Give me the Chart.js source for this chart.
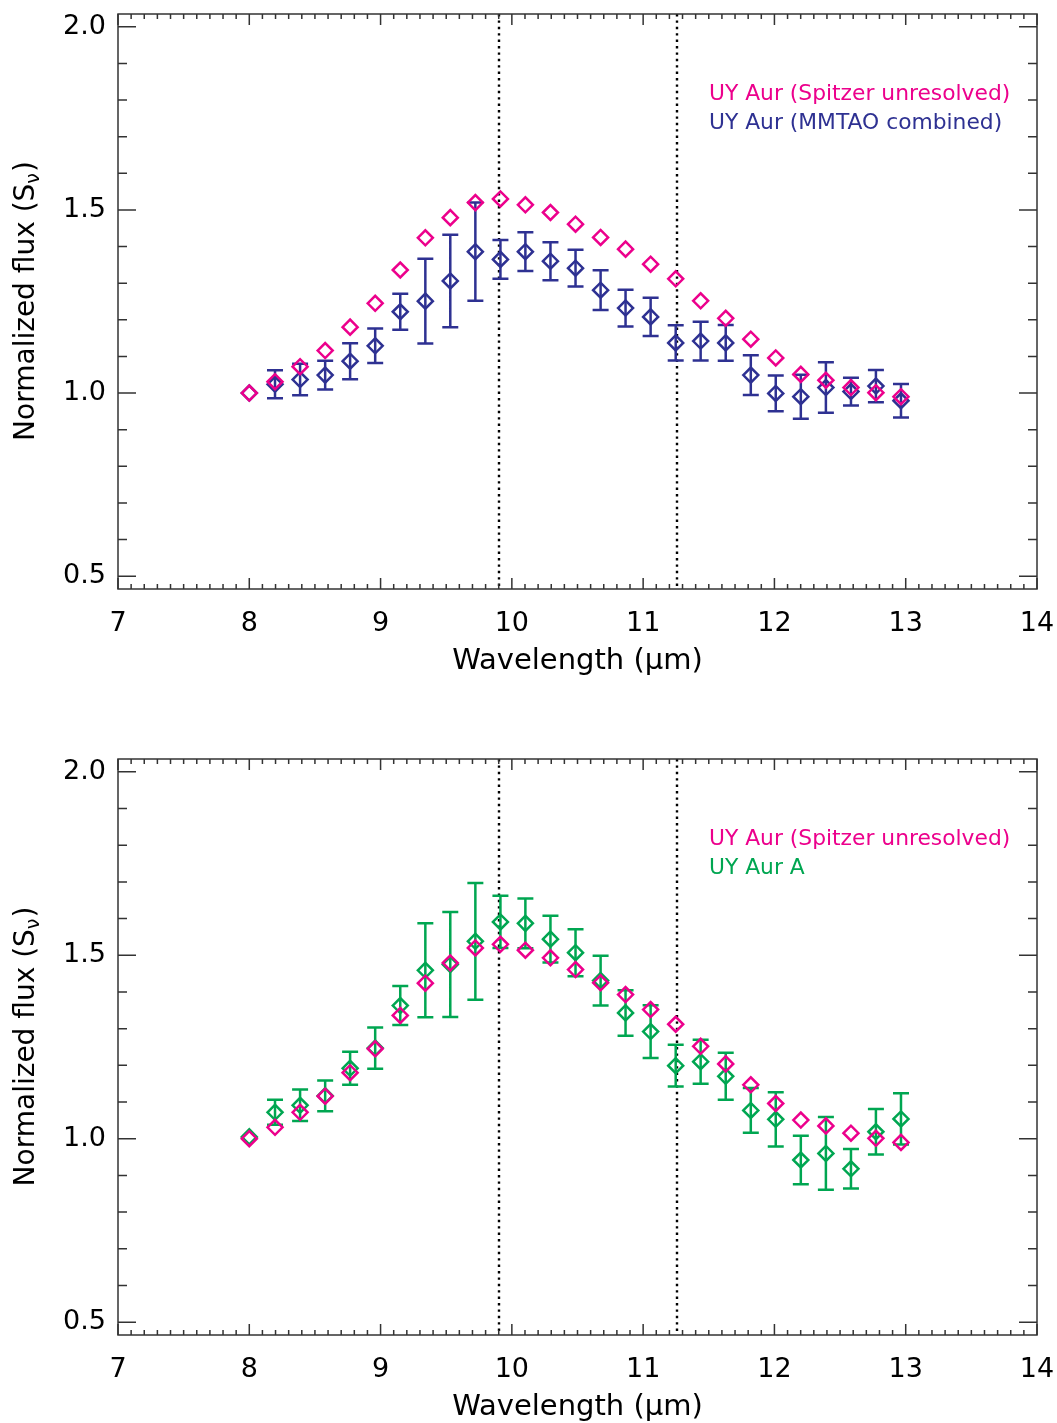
<!DOCTYPE html>
<html>
<head>
<meta charset="utf-8">
<script src="https://cdn.jsdelivr.net/npm/chart.js@4.4.1/dist/chart.umd.min.js"></script>
<style>
  body { margin: 0; background: #fff; }
  canvas { position: absolute; left: 0; }
</style>
</head>
<body>
<canvas id="topChart" width="1057" height="700" style="top:0"></canvas>
<canvas id="bottomChart" width="1057" height="723" style="top:700px"></canvas>
<script>
// wavelengths (micron) of the spectral points
const wavelength = [8.00, 8.196, 8.387, 8.578, 8.768, 8.959, 9.150, 9.341, 9.531, 9.722,
  9.913, 10.103, 10.294, 10.485, 10.676, 10.866, 11.057, 11.248, 11.438, 11.629,
  11.820, 12.010, 12.201, 12.392, 12.583, 12.773, 12.964];

// UY Aur (Spitzer unresolved)
const spitzerFlux = [1.000, 1.031, 1.072, 1.116, 1.180, 1.245, 1.336, 1.424, 1.479, 1.520,
  1.530, 1.514, 1.493, 1.461, 1.425, 1.393, 1.352, 1.312, 1.252, 1.204,
  1.147, 1.096, 1.051, 1.035, 1.015, 1.001, 0.990];

// UY Aur (MMTAO combined)
const mmtaoFlux = [1.000, 1.024, 1.037, 1.049, 1.087, 1.129, 1.222, 1.251, 1.306, 1.386,
  1.365, 1.386, 1.360, 1.341, 1.281, 1.232, 1.208, 1.137, 1.142, 1.137,
  1.049, 0.999, 0.990, 1.015, 1.004, 1.019, 0.979];
const mmtaoErr = [0, 0.038, 0.043, 0.039, 0.049, 0.047, 0.049, 0.116, 0.126, 0.134,
  0.053, 0.053, 0.052, 0.050, 0.054, 0.050, 0.052, 0.048, 0.053, 0.049,
  0.054, 0.049, 0.060, 0.069, 0.038, 0.044, 0.046];

// UY Aur A
const primaryFlux = [1.005, 1.072, 1.091, 1.117, 1.192, 1.247, 1.363, 1.459, 1.475, 1.538,
  1.591, 1.587, 1.544, 1.507, 1.431, 1.343, 1.292, 1.199, 1.210, 1.170,
  1.077, 1.053, 0.942, 0.960, 0.918, 1.019, 1.054];
const primaryErr = [0, 0.034, 0.043, 0.042, 0.045, 0.056, 0.053, 0.128, 0.143, 0.159,
  0.071, 0.068, 0.064, 0.064, 0.068, 0.062, 0.072, 0.057, 0.060, 0.064,
  0.061, 0.074, 0.066, 0.099, 0.054, 0.062, 0.070];

const xTicks = [7, 8, 9, 10, 11, 12, 13, 14];
const yTicks = [0.5, 1.0, 1.5, 2.0];
const featureLines = [9.90, 11.26];   // dotted vertical markers

const FONT = "'DejaVu Sans', sans-serif";
const PINK = '#EC008C';
const BLUE = '#2E3192';
const GREEN = '#00A651';
const AXIS = '#333333';

function points(ys) {
  return wavelength.map((x, i) => ({x: x, y: ys[i]}));
}

// IDL style box: inward major/minor ticks on all four sides
const framePlugin = {
  id: 'frame',
  beforeDatasetsDraw(chart) {
    const {ctx, chartArea: a} = chart;
    ctx.save();
    ctx.strokeStyle = '#000';
    ctx.lineWidth = 2.4;
    ctx.setLineDash([2.4, 4]);
    featureLines.forEach(v => {
      const px = Math.round(chart.scales.x.getPixelForValue(v));
      ctx.beginPath();
      ctx.moveTo(px, a.top);
      ctx.lineTo(px, a.bottom);
      ctx.stroke();
    });
    ctx.restore();
  },
  afterDraw(chart) {
    const {ctx, chartArea: a, scales} = chart;
    ctx.save();
    ctx.strokeStyle = AXIS;
    ctx.lineWidth = 1.5;
    ctx.strokeRect(a.left, a.top, a.right - a.left, a.bottom - a.top);
    ctx.beginPath();
    for (let k = 70; k <= 140; k++) {
      const px = scales.x.getPixelForValue(k / 10);
      const len = k % 10 === 0 ? 11 : 5;
      ctx.moveTo(px, a.bottom); ctx.lineTo(px, a.bottom - len);
      ctx.moveTo(px, a.top); ctx.lineTo(px, a.top + len);
    }
    for (let k = 5; k <= 20; k++) {
      const py = scales.y.getPixelForValue(k / 10);
      const len = k % 5 === 0 ? 18 : 9;
      ctx.moveTo(a.left, py); ctx.lineTo(a.left + len, py);
      ctx.moveTo(a.right, py); ctx.lineTo(a.right - len, py);
    }
    ctx.stroke();

    // y axis title with subscript nu
    ctx.fillStyle = '#000';
    ctx.translate(27, (a.top + a.bottom) / 2);
    ctx.rotate(-Math.PI / 2);
    ctx.textBaseline = 'middle';
    ctx.font = '28px ' + FONT;
    const main = 'Normalized flux (S';
    const w1 = ctx.measureText(main).width;
    const w3 = ctx.measureText(')').width;
    ctx.font = '19px ' + FONT;
    const w2 = ctx.measureText('ν').width;
    let x0 = -(w1 + w2 + w3) / 2;
    ctx.font = '28px ' + FONT;
    ctx.fillText(main, x0, 0);
    ctx.font = '19px ' + FONT;
    ctx.fillText('ν', x0 + w1, 7);
    ctx.font = '28px ' + FONT;
    ctx.fillText(')', x0 + w1 + w2 + 1, 0);
    ctx.restore();

    // text legend in upper right
    ctx.save();
    ctx.font = '21.8px ' + FONT;
    ctx.textBaseline = 'middle';
    chart.data.datasets.forEach((ds, i) => {
      ctx.fillStyle = ds.borderColor;
      ctx.fillText(ds.label, a.left + 591, a.top + 80 + i * 29);
    });
    ctx.restore();
  }
};

// vertical error bars with caps, drawn right after their dataset
const errorBarPlugin = {
  id: 'errorBars',
  afterDatasetDraw(chart, args) {
    const ds = chart.data.datasets[args.index];
    if (!ds.errors) return;
    const {ctx, scales} = chart;
    ctx.save();
    ctx.strokeStyle = ds.borderColor;
    ctx.lineWidth = 2.5;
    ctx.beginPath();
    ds.data.forEach((p, i) => {
      const e = ds.errors[i];
      if (!e) return;
      const px = scales.x.getPixelForValue(p.x);
      const y1 = scales.y.getPixelForValue(p.y + e);
      const y2 = scales.y.getPixelForValue(p.y - e);
      ctx.moveTo(px, y1); ctx.lineTo(px, y2);
      ctx.moveTo(px - 8, y1); ctx.lineTo(px + 8, y1);
      ctx.moveTo(px - 8, y2); ctx.lineTo(px + 8, y2);
    });
    ctx.stroke();
    ctx.restore();
  }
};

function diamonds(label, ys, color, errs) {
  return {
    label: label,
    data: points(ys),
    errors: errs,
    borderColor: color,
    backgroundColor: 'rgba(0,0,0,0)',
    pointStyle: 'rectRot',
    pointRadius: 7.5,
    pointBorderWidth: 2.5,
    borderWidth: 2.5,
    showLine: false
  };
}

function makeChart(id, datasets, padTop, padBottom) {
  return new Chart(document.getElementById(id), {
    type: 'scatter',
    data: {datasets: datasets},
    plugins: [framePlugin, errorBarPlugin],
    options: {
      responsive: false,
      animation: false,
      devicePixelRatio: 1,
      layout: {padding: {left: 0, right: 20, top: padTop, bottom: padBottom}},
      plugins: {legend: {display: false}, tooltip: {enabled: false}},
      scales: {
        x: {
          type: 'linear', min: 7, max: 14,
          afterBuildTicks: s => { s.ticks = xTicks.map(v => ({value: v})); },
          afterFit: s => { s.height = 88; s.paddingLeft = 0; s.paddingRight = 0; },
          grid: {display: false, drawTicks: false},
          border: {display: false},
          ticks: {font: {family: FONT, size: 27}, color: '#000', padding: 19, maxRotation: 0, autoSkip: false},
          title: {display: true, text: 'Wavelength (μm)', color: '#000',
                  font: {family: FONT, size: 29}, padding: {top: 0, bottom: -2}}
        },
        y: {
          type: 'linear', min: 0.465, max: 2.035,
          afterBuildTicks: s => { s.ticks = yTicks.map(v => ({value: v})); },
          afterFit: s => { s.width = 118; s.paddingTop = 0; s.paddingBottom = 0; },
          grid: {display: false, drawTicks: false},
          border: {display: false},
          ticks: {font: {family: FONT, size: 27}, color: '#000', padding: 12,
                  callback: v => v.toFixed(1)}
        }
      }
    }
  });
}

makeChart('topChart', [
  diamonds('UY Aur (Spitzer unresolved)', spitzerFlux, PINK, null),
  diamonds('UY Aur (MMTAO combined)', mmtaoFlux, BLUE, mmtaoErr)
], 14, 23);

makeChart('bottomChart', [
  diamonds('UY Aur (Spitzer unresolved)', spitzerFlux, PINK, null),
  diamonds('UY Aur A', primaryFlux, GREEN, primaryErr)
], 59, 0);
</script>
</body>
</html>
